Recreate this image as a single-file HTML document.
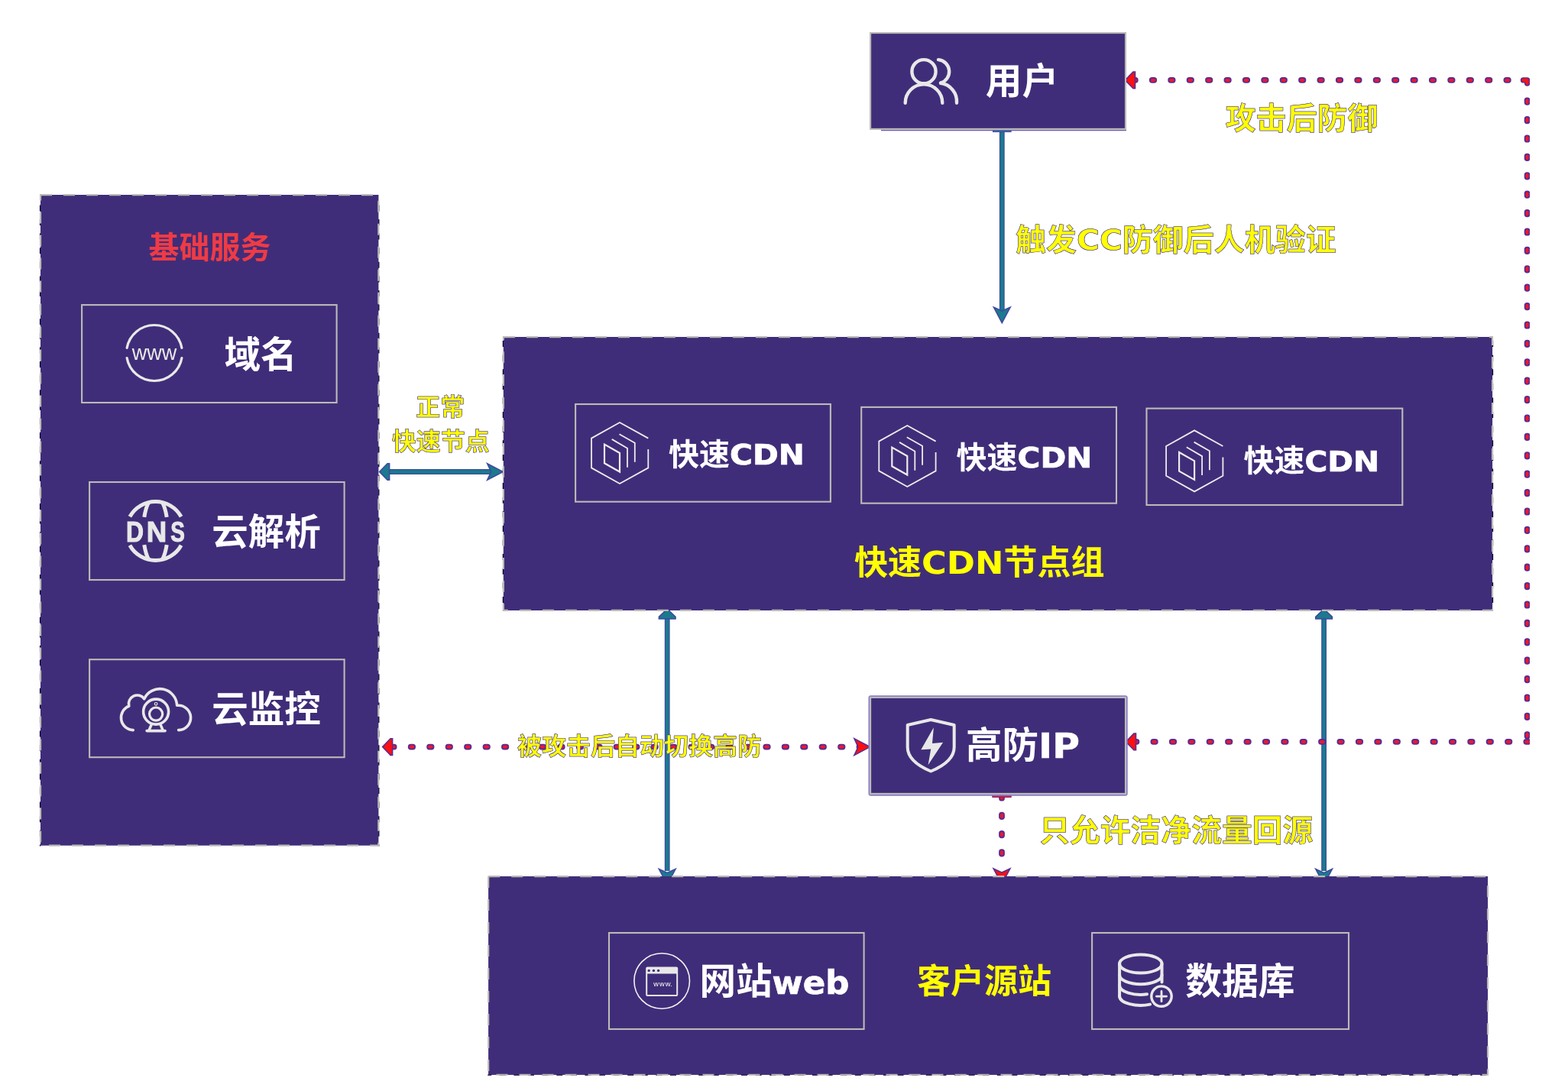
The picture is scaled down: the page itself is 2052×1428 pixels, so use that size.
<!DOCTYPE html>
<html lang="zh-CN"><head><meta charset="utf-8"><title>快速CDN 高防架构</title>
<style>
html,body{margin:0;padding:0;background:#fff;}
body{width:2052px;height:1428px;overflow:hidden;position:relative;}
svg{display:block;position:absolute;left:0;top:0;will-change:transform;}
text{font-family:"Liberation Sans","Noto Sans CJK SC","WenQuanYi Zen Hei",sans-serif;font-weight:700;}
.lat{font-family:"DejaVu Sans","Liberation Sans","Noto Sans CJK SC",sans-serif;font-weight:700;}
.w{fill:#fff;}
.wn{fill:#fff;}
.y{fill:#FFFF00;stroke:#5A4AA8;stroke-width:0.5px;stroke-linejoin:round;font-weight:700;filter:drop-shadow(0.45px 0.45px 0px rgba(58,40,150,0.95));}
.yp{fill:#FFFF00;}
.ic{fill:none;stroke:#E8E8E8;stroke-linecap:round;stroke-linejoin:round;}
</style></head><body>
<svg width="2052" height="1428" viewBox="0 0 2052 1428" role="img" aria-label="快速CDN 高防架构图">
<line x1="506" y1="617.5" x2="645" y2="617.5" stroke="#3F4A9E" stroke-width="6.8" />
<line x1="506" y1="617.5" x2="645" y2="617.5" stroke="#1B7A8E" stroke-width="4.4" />
<polygon points="496.6,617.5 507.0,606.7 509.6,606.7 509.6,628.3 507.0,628.3" fill="#1B7A8E" stroke="#3F4A9E" stroke-width="1.6" stroke-linejoin="miter"/>
<polygon points="658.2,617.5 637.7,628.3 642.7,617.5 637.7,606.7" fill="#1B7A8E" stroke="#3F4A9E" stroke-width="1.6" stroke-linejoin="miter"/>
<line x1="1311.3" y1="168" x2="1311.3" y2="408" stroke="#3F4A9E" stroke-width="6.8" />
<line x1="1311.3" y1="168" x2="1311.3" y2="408" stroke="#1B7A8E" stroke-width="4.4" />
<rect x="1299.5" y="168" width="23.6" height="4.6" fill="#1B7A8E" stroke="#3F4A9E" stroke-width="1"/>
<polygon points="1311.3,422.6 1300.5,402.1 1311.3,407.1 1322.1,402.1" fill="#1B7A8E" stroke="#3F4A9E" stroke-width="1.6" stroke-linejoin="miter"/>
<line x1="873.2" y1="806" x2="873.2" y2="1140" stroke="#3F4A9E" stroke-width="6.8" />
<line x1="873.2" y1="806" x2="873.2" y2="1140" stroke="#1B7A8E" stroke-width="4.4" />
<polygon points="873.2,797.0 884.0,807.4 884.0,810.0 862.4,810.0 862.4,807.4" fill="#1B7A8E" stroke="#3F4A9E" stroke-width="1.6" stroke-linejoin="miter"/>
<polygon points="873.2,1158.0 862.4,1137.5 873.2,1142.5 884.0,1137.5" fill="#1B7A8E" stroke="#3F4A9E" stroke-width="1.6" stroke-linejoin="miter"/>
<line x1="1732.6" y1="806" x2="1732.6" y2="1140" stroke="#3F4A9E" stroke-width="6.8" />
<line x1="1732.6" y1="806" x2="1732.6" y2="1140" stroke="#1B7A8E" stroke-width="4.4" />
<polygon points="1732.6,797.0 1743.4,807.4 1743.4,810.0 1721.8,810.0 1721.8,807.4" fill="#1B7A8E" stroke="#3F4A9E" stroke-width="1.6" stroke-linejoin="miter"/>
<polygon points="1732.6,1158.0 1721.8,1137.5 1732.6,1142.5 1743.4,1137.5" fill="#1B7A8E" stroke="#3F4A9E" stroke-width="1.6" stroke-linejoin="miter"/>
<rect x="1479.5" y="101.0" width="10.2" height="7.8" rx="3.7" fill="#5A2D91"/>
<rect x="1481.4" y="102.9" width="6.4" height="4" rx="2" fill="#F5152A"/>
<rect x="1503.9" y="101.0" width="10.2" height="7.8" rx="3.7" fill="#5A2D91"/>
<rect x="1505.8" y="102.9" width="6.4" height="4" rx="2" fill="#F5152A"/>
<rect x="1528.3" y="101.0" width="10.2" height="7.8" rx="3.7" fill="#5A2D91"/>
<rect x="1530.2" y="102.9" width="6.4" height="4" rx="2" fill="#F5152A"/>
<rect x="1552.7" y="101.0" width="10.2" height="7.8" rx="3.7" fill="#5A2D91"/>
<rect x="1554.6" y="102.9" width="6.4" height="4" rx="2" fill="#F5152A"/>
<rect x="1577.1" y="101.0" width="10.2" height="7.8" rx="3.7" fill="#5A2D91"/>
<rect x="1579.0" y="102.9" width="6.4" height="4" rx="2" fill="#F5152A"/>
<rect x="1601.5" y="101.0" width="10.2" height="7.8" rx="3.7" fill="#5A2D91"/>
<rect x="1603.4" y="102.9" width="6.4" height="4" rx="2" fill="#F5152A"/>
<rect x="1625.9" y="101.0" width="10.2" height="7.8" rx="3.7" fill="#5A2D91"/>
<rect x="1627.8" y="102.9" width="6.4" height="4" rx="2" fill="#F5152A"/>
<rect x="1650.3" y="101.0" width="10.2" height="7.8" rx="3.7" fill="#5A2D91"/>
<rect x="1652.2" y="102.9" width="6.4" height="4" rx="2" fill="#F5152A"/>
<rect x="1674.7" y="101.0" width="10.2" height="7.8" rx="3.7" fill="#5A2D91"/>
<rect x="1676.6" y="102.9" width="6.4" height="4" rx="2" fill="#F5152A"/>
<rect x="1699.1" y="101.0" width="10.2" height="7.8" rx="3.7" fill="#5A2D91"/>
<rect x="1701.0" y="102.9" width="6.4" height="4" rx="2" fill="#F5152A"/>
<rect x="1723.5" y="101.0" width="10.2" height="7.8" rx="3.7" fill="#5A2D91"/>
<rect x="1725.4" y="102.9" width="6.4" height="4" rx="2" fill="#F5152A"/>
<rect x="1747.9" y="101.0" width="10.2" height="7.8" rx="3.7" fill="#5A2D91"/>
<rect x="1749.8" y="102.9" width="6.4" height="4" rx="2" fill="#F5152A"/>
<rect x="1772.3" y="101.0" width="10.2" height="7.8" rx="3.7" fill="#5A2D91"/>
<rect x="1774.2" y="102.9" width="6.4" height="4" rx="2" fill="#F5152A"/>
<rect x="1796.7" y="101.0" width="10.2" height="7.8" rx="3.7" fill="#5A2D91"/>
<rect x="1798.6" y="102.9" width="6.4" height="4" rx="2" fill="#F5152A"/>
<rect x="1821.1" y="101.0" width="10.2" height="7.8" rx="3.7" fill="#5A2D91"/>
<rect x="1823.0" y="102.9" width="6.4" height="4" rx="2" fill="#F5152A"/>
<rect x="1845.5" y="101.0" width="10.2" height="7.8" rx="3.7" fill="#5A2D91"/>
<rect x="1847.4" y="102.9" width="6.4" height="4" rx="2" fill="#F5152A"/>
<rect x="1869.9" y="101.0" width="10.2" height="7.8" rx="3.7" fill="#5A2D91"/>
<rect x="1871.8" y="102.9" width="6.4" height="4" rx="2" fill="#F5152A"/>
<rect x="1894.3" y="101.0" width="10.2" height="7.8" rx="3.7" fill="#5A2D91"/>
<rect x="1896.2" y="102.9" width="6.4" height="4" rx="2" fill="#F5152A"/>
<rect x="1918.7" y="101.0" width="10.2" height="7.8" rx="3.7" fill="#5A2D91"/>
<rect x="1920.6" y="102.9" width="6.4" height="4" rx="2" fill="#F5152A"/>
<rect x="1943.1" y="101.0" width="10.2" height="7.8" rx="3.7" fill="#5A2D91"/>
<rect x="1945.0" y="102.9" width="6.4" height="4" rx="2" fill="#F5152A"/>
<rect x="1967.5" y="101.0" width="10.2" height="7.8" rx="3.7" fill="#5A2D91"/>
<rect x="1969.4" y="102.9" width="6.4" height="4" rx="2" fill="#F5152A"/>
<path d="M1993.5 104.9 H1998.6 V109" fill="none" stroke="#5A2D91" stroke-width="7.4" stroke-linecap="round" stroke-linejoin="round"/>
<path d="M1993.5 104.9 H1998.6 V109" fill="none" stroke="#FF1414" stroke-width="4.2" stroke-linecap="round" stroke-linejoin="round"/>
<rect x="1994.7" y="127.6" width="7.8" height="10.2" rx="3.7" fill="#5A2D91"/>
<rect x="1996.6" y="129.5" width="4" height="6.4" rx="2" fill="#F5152A"/>
<rect x="1994.7" y="152.0" width="7.8" height="10.2" rx="3.7" fill="#5A2D91"/>
<rect x="1996.6" y="153.9" width="4" height="6.4" rx="2" fill="#F5152A"/>
<rect x="1994.7" y="176.4" width="7.8" height="10.2" rx="3.7" fill="#5A2D91"/>
<rect x="1996.6" y="178.3" width="4" height="6.4" rx="2" fill="#F5152A"/>
<rect x="1994.7" y="200.8" width="7.8" height="10.2" rx="3.7" fill="#5A2D91"/>
<rect x="1996.6" y="202.7" width="4" height="6.4" rx="2" fill="#F5152A"/>
<rect x="1994.7" y="225.2" width="7.8" height="10.2" rx="3.7" fill="#5A2D91"/>
<rect x="1996.6" y="227.1" width="4" height="6.4" rx="2" fill="#F5152A"/>
<rect x="1994.7" y="249.6" width="7.8" height="10.2" rx="3.7" fill="#5A2D91"/>
<rect x="1996.6" y="251.5" width="4" height="6.4" rx="2" fill="#F5152A"/>
<rect x="1994.7" y="274.0" width="7.8" height="10.2" rx="3.7" fill="#5A2D91"/>
<rect x="1996.6" y="275.9" width="4" height="6.4" rx="2" fill="#F5152A"/>
<rect x="1994.7" y="298.4" width="7.8" height="10.2" rx="3.7" fill="#5A2D91"/>
<rect x="1996.6" y="300.3" width="4" height="6.4" rx="2" fill="#F5152A"/>
<rect x="1994.7" y="322.8" width="7.8" height="10.2" rx="3.7" fill="#5A2D91"/>
<rect x="1996.6" y="324.7" width="4" height="6.4" rx="2" fill="#F5152A"/>
<rect x="1994.7" y="347.2" width="7.8" height="10.2" rx="3.7" fill="#5A2D91"/>
<rect x="1996.6" y="349.1" width="4" height="6.4" rx="2" fill="#F5152A"/>
<rect x="1994.7" y="371.6" width="7.8" height="10.2" rx="3.7" fill="#5A2D91"/>
<rect x="1996.6" y="373.5" width="4" height="6.4" rx="2" fill="#F5152A"/>
<rect x="1994.7" y="396.0" width="7.8" height="10.2" rx="3.7" fill="#5A2D91"/>
<rect x="1996.6" y="397.9" width="4" height="6.4" rx="2" fill="#F5152A"/>
<rect x="1994.7" y="420.4" width="7.8" height="10.2" rx="3.7" fill="#5A2D91"/>
<rect x="1996.6" y="422.3" width="4" height="6.4" rx="2" fill="#F5152A"/>
<rect x="1994.7" y="444.8" width="7.8" height="10.2" rx="3.7" fill="#5A2D91"/>
<rect x="1996.6" y="446.7" width="4" height="6.4" rx="2" fill="#F5152A"/>
<rect x="1994.7" y="469.2" width="7.8" height="10.2" rx="3.7" fill="#5A2D91"/>
<rect x="1996.6" y="471.1" width="4" height="6.4" rx="2" fill="#F5152A"/>
<rect x="1994.7" y="493.6" width="7.8" height="10.2" rx="3.7" fill="#5A2D91"/>
<rect x="1996.6" y="495.5" width="4" height="6.4" rx="2" fill="#F5152A"/>
<rect x="1994.7" y="518.0" width="7.8" height="10.2" rx="3.7" fill="#5A2D91"/>
<rect x="1996.6" y="519.9" width="4" height="6.4" rx="2" fill="#F5152A"/>
<rect x="1994.7" y="542.4" width="7.8" height="10.2" rx="3.7" fill="#5A2D91"/>
<rect x="1996.6" y="544.3" width="4" height="6.4" rx="2" fill="#F5152A"/>
<rect x="1994.7" y="566.8" width="7.8" height="10.2" rx="3.7" fill="#5A2D91"/>
<rect x="1996.6" y="568.7" width="4" height="6.4" rx="2" fill="#F5152A"/>
<rect x="1994.7" y="591.2" width="7.8" height="10.2" rx="3.7" fill="#5A2D91"/>
<rect x="1996.6" y="593.1" width="4" height="6.4" rx="2" fill="#F5152A"/>
<rect x="1994.7" y="615.6" width="7.8" height="10.2" rx="3.7" fill="#5A2D91"/>
<rect x="1996.6" y="617.5" width="4" height="6.4" rx="2" fill="#F5152A"/>
<rect x="1994.7" y="640.0" width="7.8" height="10.2" rx="3.7" fill="#5A2D91"/>
<rect x="1996.6" y="641.9" width="4" height="6.4" rx="2" fill="#F5152A"/>
<rect x="1994.7" y="664.4" width="7.8" height="10.2" rx="3.7" fill="#5A2D91"/>
<rect x="1996.6" y="666.3" width="4" height="6.4" rx="2" fill="#F5152A"/>
<rect x="1994.7" y="688.8" width="7.8" height="10.2" rx="3.7" fill="#5A2D91"/>
<rect x="1996.6" y="690.7" width="4" height="6.4" rx="2" fill="#F5152A"/>
<rect x="1994.7" y="713.2" width="7.8" height="10.2" rx="3.7" fill="#5A2D91"/>
<rect x="1996.6" y="715.1" width="4" height="6.4" rx="2" fill="#F5152A"/>
<rect x="1994.7" y="737.6" width="7.8" height="10.2" rx="3.7" fill="#5A2D91"/>
<rect x="1996.6" y="739.5" width="4" height="6.4" rx="2" fill="#F5152A"/>
<rect x="1994.7" y="762.0" width="7.8" height="10.2" rx="3.7" fill="#5A2D91"/>
<rect x="1996.6" y="763.9" width="4" height="6.4" rx="2" fill="#F5152A"/>
<rect x="1994.7" y="786.4" width="7.8" height="10.2" rx="3.7" fill="#5A2D91"/>
<rect x="1996.6" y="788.3" width="4" height="6.4" rx="2" fill="#F5152A"/>
<rect x="1994.7" y="810.8" width="7.8" height="10.2" rx="3.7" fill="#5A2D91"/>
<rect x="1996.6" y="812.7" width="4" height="6.4" rx="2" fill="#F5152A"/>
<rect x="1994.7" y="835.2" width="7.8" height="10.2" rx="3.7" fill="#5A2D91"/>
<rect x="1996.6" y="837.1" width="4" height="6.4" rx="2" fill="#F5152A"/>
<rect x="1994.7" y="859.6" width="7.8" height="10.2" rx="3.7" fill="#5A2D91"/>
<rect x="1996.6" y="861.5" width="4" height="6.4" rx="2" fill="#F5152A"/>
<rect x="1994.7" y="884.0" width="7.8" height="10.2" rx="3.7" fill="#5A2D91"/>
<rect x="1996.6" y="885.9" width="4" height="6.4" rx="2" fill="#F5152A"/>
<rect x="1994.7" y="908.4" width="7.8" height="10.2" rx="3.7" fill="#5A2D91"/>
<rect x="1996.6" y="910.3" width="4" height="6.4" rx="2" fill="#F5152A"/>
<rect x="1994.7" y="932.8" width="7.8" height="10.2" rx="3.7" fill="#5A2D91"/>
<rect x="1996.6" y="934.7" width="4" height="6.4" rx="2" fill="#F5152A"/>
<rect x="1994.7" y="957.2" width="7.8" height="10.2" rx="3.7" fill="#5A2D91"/>
<rect x="1996.6" y="959.1" width="4" height="6.4" rx="2" fill="#F5152A"/>
<rect x="1993.5" y="967.0" width="10.2" height="7.8" rx="3.7" fill="#5A2D91"/>
<rect x="1995.4" y="968.9" width="6.4" height="4" rx="2" fill="#F5152A"/>
<rect x="1969.1" y="967.0" width="10.2" height="7.8" rx="3.7" fill="#5A2D91"/>
<rect x="1971.0" y="968.9" width="6.4" height="4" rx="2" fill="#F5152A"/>
<rect x="1944.7" y="967.0" width="10.2" height="7.8" rx="3.7" fill="#5A2D91"/>
<rect x="1946.6" y="968.9" width="6.4" height="4" rx="2" fill="#F5152A"/>
<rect x="1920.3" y="967.0" width="10.2" height="7.8" rx="3.7" fill="#5A2D91"/>
<rect x="1922.2" y="968.9" width="6.4" height="4" rx="2" fill="#F5152A"/>
<rect x="1895.9" y="967.0" width="10.2" height="7.8" rx="3.7" fill="#5A2D91"/>
<rect x="1897.8" y="968.9" width="6.4" height="4" rx="2" fill="#F5152A"/>
<rect x="1871.5" y="967.0" width="10.2" height="7.8" rx="3.7" fill="#5A2D91"/>
<rect x="1873.4" y="968.9" width="6.4" height="4" rx="2" fill="#F5152A"/>
<rect x="1847.1" y="967.0" width="10.2" height="7.8" rx="3.7" fill="#5A2D91"/>
<rect x="1849.0" y="968.9" width="6.4" height="4" rx="2" fill="#F5152A"/>
<rect x="1822.7" y="967.0" width="10.2" height="7.8" rx="3.7" fill="#5A2D91"/>
<rect x="1824.6" y="968.9" width="6.4" height="4" rx="2" fill="#F5152A"/>
<rect x="1798.3" y="967.0" width="10.2" height="7.8" rx="3.7" fill="#5A2D91"/>
<rect x="1800.2" y="968.9" width="6.4" height="4" rx="2" fill="#F5152A"/>
<rect x="1773.9" y="967.0" width="10.2" height="7.8" rx="3.7" fill="#5A2D91"/>
<rect x="1775.8" y="968.9" width="6.4" height="4" rx="2" fill="#F5152A"/>
<rect x="1749.5" y="967.0" width="10.2" height="7.8" rx="3.7" fill="#5A2D91"/>
<rect x="1751.4" y="968.9" width="6.4" height="4" rx="2" fill="#F5152A"/>
<rect x="1725.1" y="967.0" width="10.2" height="7.8" rx="3.7" fill="#5A2D91"/>
<rect x="1727.0" y="968.9" width="6.4" height="4" rx="2" fill="#F5152A"/>
<rect x="1700.7" y="967.0" width="10.2" height="7.8" rx="3.7" fill="#5A2D91"/>
<rect x="1702.6" y="968.9" width="6.4" height="4" rx="2" fill="#F5152A"/>
<rect x="1676.3" y="967.0" width="10.2" height="7.8" rx="3.7" fill="#5A2D91"/>
<rect x="1678.2" y="968.9" width="6.4" height="4" rx="2" fill="#F5152A"/>
<rect x="1651.9" y="967.0" width="10.2" height="7.8" rx="3.7" fill="#5A2D91"/>
<rect x="1653.8" y="968.9" width="6.4" height="4" rx="2" fill="#F5152A"/>
<rect x="1627.5" y="967.0" width="10.2" height="7.8" rx="3.7" fill="#5A2D91"/>
<rect x="1629.4" y="968.9" width="6.4" height="4" rx="2" fill="#F5152A"/>
<rect x="1603.1" y="967.0" width="10.2" height="7.8" rx="3.7" fill="#5A2D91"/>
<rect x="1605.0" y="968.9" width="6.4" height="4" rx="2" fill="#F5152A"/>
<rect x="1578.7" y="967.0" width="10.2" height="7.8" rx="3.7" fill="#5A2D91"/>
<rect x="1580.6" y="968.9" width="6.4" height="4" rx="2" fill="#F5152A"/>
<rect x="1554.3" y="967.0" width="10.2" height="7.8" rx="3.7" fill="#5A2D91"/>
<rect x="1556.2" y="968.9" width="6.4" height="4" rx="2" fill="#F5152A"/>
<rect x="1529.9" y="967.0" width="10.2" height="7.8" rx="3.7" fill="#5A2D91"/>
<rect x="1531.8" y="968.9" width="6.4" height="4" rx="2" fill="#F5152A"/>
<rect x="1505.5" y="967.0" width="10.2" height="7.8" rx="3.7" fill="#5A2D91"/>
<rect x="1507.4" y="968.9" width="6.4" height="4" rx="2" fill="#F5152A"/>
<rect x="1481.1" y="967.0" width="10.2" height="7.8" rx="3.7" fill="#5A2D91"/>
<rect x="1483.0" y="968.9" width="6.4" height="4" rx="2" fill="#F5152A"/>
<polygon points="1472.5,104.9 1482.9,94.1 1485.5,94.1 1485.5,115.7 1482.9,115.7" fill="#FF1010" stroke="#5A2D91" stroke-width="1.6" stroke-linejoin="miter"/>
<polygon points="1473.5,970.9 1483.9,960.1 1486.5,960.1 1486.5,981.7 1483.9,981.7" fill="#FF1010" stroke="#5A2D91" stroke-width="1.6" stroke-linejoin="miter"/>
<rect x="509.3" y="973.7" width="10.2" height="7.8" rx="3.7" fill="#5A2D91"/>
<rect x="511.2" y="975.6" width="6.4" height="4" rx="2" fill="#F5152A"/>
<rect x="533.8" y="973.7" width="10.2" height="7.8" rx="3.7" fill="#5A2D91"/>
<rect x="535.7" y="975.6" width="6.4" height="4" rx="2" fill="#F5152A"/>
<rect x="558.2" y="973.7" width="10.2" height="7.8" rx="3.7" fill="#5A2D91"/>
<rect x="560.1" y="975.6" width="6.4" height="4" rx="2" fill="#F5152A"/>
<rect x="582.7" y="973.7" width="10.2" height="7.8" rx="3.7" fill="#5A2D91"/>
<rect x="584.6" y="975.6" width="6.4" height="4" rx="2" fill="#F5152A"/>
<rect x="607.1" y="973.7" width="10.2" height="7.8" rx="3.7" fill="#5A2D91"/>
<rect x="609.0" y="975.6" width="6.4" height="4" rx="2" fill="#F5152A"/>
<rect x="631.6" y="973.7" width="10.2" height="7.8" rx="3.7" fill="#5A2D91"/>
<rect x="633.5" y="975.6" width="6.4" height="4" rx="2" fill="#F5152A"/>
<rect x="656.0" y="973.7" width="10.2" height="7.8" rx="3.7" fill="#5A2D91"/>
<rect x="657.9" y="975.6" width="6.4" height="4" rx="2" fill="#F5152A"/>
<rect x="680.5" y="973.7" width="10.2" height="7.8" rx="3.7" fill="#5A2D91"/>
<rect x="682.4" y="975.6" width="6.4" height="4" rx="2" fill="#F5152A"/>
<rect x="704.9" y="973.7" width="10.2" height="7.8" rx="3.7" fill="#5A2D91"/>
<rect x="706.8" y="975.6" width="6.4" height="4" rx="2" fill="#F5152A"/>
<rect x="729.4" y="973.7" width="10.2" height="7.8" rx="3.7" fill="#5A2D91"/>
<rect x="731.3" y="975.6" width="6.4" height="4" rx="2" fill="#F5152A"/>
<rect x="753.8" y="973.7" width="10.2" height="7.8" rx="3.7" fill="#5A2D91"/>
<rect x="755.7" y="975.6" width="6.4" height="4" rx="2" fill="#F5152A"/>
<rect x="778.3" y="973.7" width="10.2" height="7.8" rx="3.7" fill="#5A2D91"/>
<rect x="780.2" y="975.6" width="6.4" height="4" rx="2" fill="#F5152A"/>
<rect x="802.7" y="973.7" width="10.2" height="7.8" rx="3.7" fill="#5A2D91"/>
<rect x="804.6" y="975.6" width="6.4" height="4" rx="2" fill="#F5152A"/>
<rect x="827.2" y="973.7" width="10.2" height="7.8" rx="3.7" fill="#5A2D91"/>
<rect x="829.1" y="975.6" width="6.4" height="4" rx="2" fill="#F5152A"/>
<rect x="851.6" y="973.7" width="10.2" height="7.8" rx="3.7" fill="#5A2D91"/>
<rect x="853.5" y="975.6" width="6.4" height="4" rx="2" fill="#F5152A"/>
<rect x="876.1" y="973.7" width="10.2" height="7.8" rx="3.7" fill="#5A2D91"/>
<rect x="878.0" y="975.6" width="6.4" height="4" rx="2" fill="#F5152A"/>
<rect x="900.5" y="973.7" width="10.2" height="7.8" rx="3.7" fill="#5A2D91"/>
<rect x="902.4" y="975.6" width="6.4" height="4" rx="2" fill="#F5152A"/>
<rect x="925.0" y="973.7" width="10.2" height="7.8" rx="3.7" fill="#5A2D91"/>
<rect x="926.9" y="975.6" width="6.4" height="4" rx="2" fill="#F5152A"/>
<rect x="949.4" y="973.7" width="10.2" height="7.8" rx="3.7" fill="#5A2D91"/>
<rect x="951.3" y="975.6" width="6.4" height="4" rx="2" fill="#F5152A"/>
<rect x="973.9" y="973.7" width="10.2" height="7.8" rx="3.7" fill="#5A2D91"/>
<rect x="975.8" y="975.6" width="6.4" height="4" rx="2" fill="#F5152A"/>
<rect x="998.4" y="973.7" width="10.2" height="7.8" rx="3.7" fill="#5A2D91"/>
<rect x="1000.2" y="975.6" width="6.4" height="4" rx="2" fill="#F5152A"/>
<rect x="1022.8" y="973.7" width="10.2" height="7.8" rx="3.7" fill="#5A2D91"/>
<rect x="1024.7" y="975.6" width="6.4" height="4" rx="2" fill="#F5152A"/>
<rect x="1047.2" y="973.7" width="10.2" height="7.8" rx="3.7" fill="#5A2D91"/>
<rect x="1049.1" y="975.6" width="6.4" height="4" rx="2" fill="#F5152A"/>
<rect x="1071.7" y="973.7" width="10.2" height="7.8" rx="3.7" fill="#5A2D91"/>
<rect x="1073.6" y="975.6" width="6.4" height="4" rx="2" fill="#F5152A"/>
<rect x="1096.2" y="973.7" width="10.2" height="7.8" rx="3.7" fill="#5A2D91"/>
<rect x="1098.0" y="975.6" width="6.4" height="4" rx="2" fill="#F5152A"/>
<rect x="1120.6" y="973.7" width="10.2" height="7.8" rx="3.7" fill="#5A2D91"/>
<rect x="1122.5" y="975.6" width="6.4" height="4" rx="2" fill="#F5152A"/>
<polygon points="500.6,977.6 511.0,966.8 513.6,966.8 513.6,988.4 511.0,988.4" fill="#FF1010" stroke="#5A2D91" stroke-width="1.6" stroke-linejoin="miter"/>
<polygon points="1138.5,977.6 1118.0,988.4 1123.0,977.6 1118.0,966.8" fill="#FF1010" stroke="#5A2D91" stroke-width="1.6" stroke-linejoin="miter"/>
<rect x="1307.1" y="1038.4" width="7.8" height="10.2" rx="3.7" fill="#5A2D91"/>
<rect x="1309.0" y="1040.3" width="4" height="6.4" rx="2" fill="#F5152A"/>
<rect x="1307.1" y="1062.7" width="7.8" height="10.2" rx="3.7" fill="#5A2D91"/>
<rect x="1309.0" y="1064.6" width="4" height="6.4" rx="2" fill="#F5152A"/>
<rect x="1307.1" y="1087.0" width="7.8" height="10.2" rx="3.7" fill="#5A2D91"/>
<rect x="1309.0" y="1088.9" width="4" height="6.4" rx="2" fill="#F5152A"/>
<rect x="1307.1" y="1111.3" width="7.8" height="10.2" rx="3.7" fill="#5A2D91"/>
<rect x="1309.0" y="1113.2" width="4" height="6.4" rx="2" fill="#F5152A"/>
<rect x="1298.8" y="1039" width="24.4" height="4.4" fill="#FF1414" stroke="#5A2D91" stroke-width="1"/>
<polygon points="1311.0,1157.5 1300.2,1137.0 1311.0,1142.0 1321.8,1137.0" fill="#FF1010" stroke="#5A2D91" stroke-width="1.6" stroke-linejoin="miter"/>
<rect x="2002" y="0" width="50" height="1428" fill="#fff"/>
<rect x="52.96" y="255" width="442.44" height="851.7" fill="#402D79"/>
<path d="M52.56 260.1 V1107.6 M495.8 260.1 V1107.6" stroke="#0B0338" stroke-width="1.3" stroke-dasharray="8 10.6" fill="none" stroke-dashoffset="10.3"/>
<rect x="53.06" y="255.1" width="442.24" height="851.5" fill="none" stroke="#BBBBB7" stroke-width="2.1" stroke-dasharray="15 15"/>
<rect x="658.8" y="441" width="1294.3" height="358" fill="#402D79"/>
<path d="M658.4 446.1 V799.9 M1953.5 446.1 V799.9" stroke="#0B0338" stroke-width="1.3" stroke-dasharray="8 10.6" fill="none" stroke-dashoffset="0"/>
<rect x="658.9" y="441.1" width="1294.1" height="357.8" fill="none" stroke="#BBBBB7" stroke-width="2.1" stroke-dasharray="15 15"/>
<rect x="639.1" y="1147" width="1308" height="259.9" fill="#402D79"/>
<path d="M638.2 1407.2 H1948" stroke="#0B0338" stroke-width="1.3" stroke-dasharray="8 10.6" fill="none" stroke-dashoffset="3"/>
<rect x="639.2" y="1147.1" width="1307.8" height="259.7" fill="none" stroke="#BBBBB7" stroke-width="2.1" stroke-dasharray="15 15"/>
<path d="M1153 170.6 H1474" stroke="#6E5AB5" stroke-width="1.2"/>
<rect x="1139.1" y="43.1" width="333.9" height="125.8" fill="#402D79" stroke="#BBBBB7" stroke-width="2.1"/>
<rect x="1136.5" y="910.3" width="339.2" height="131.4" rx="3" fill="#8A7CC6"/>
<rect x="1139.1" y="912.9" width="333.9" height="126" fill="#402D79" stroke="#BBBBB7" stroke-width="2.1"/>
<rect x="107.1" y="399.1" width="333.5" height="127.9" fill="none" stroke="#BBBBB7" stroke-width="2.1"/>
<rect x="117.1" y="631" width="333.5" height="128" fill="none" stroke="#BBBBB7" stroke-width="2.1"/>
<rect x="117.1" y="863.2" width="333.5" height="128" fill="none" stroke="#BBBBB7" stroke-width="2.1"/>
<rect x="753.1" y="529" width="333.8" height="127.7" fill="none" stroke="#BBBBB7" stroke-width="2.1"/>
<rect x="1127.2" y="532.9" width="333.8" height="125.8" fill="none" stroke="#BBBBB7" stroke-width="2.1"/>
<rect x="1500.5" y="534.6" width="334.8" height="126.4" fill="none" stroke="#BBBBB7" stroke-width="2.1"/>
<rect x="797" y="1221" width="333.6" height="126" fill="none" stroke="#BBBBB7" stroke-width="2.1"/>
<rect x="1429.1" y="1221" width="335.9" height="126" fill="none" stroke="#BBBBB7" stroke-width="2.1"/>
<g class="ic" stroke-width="4.4">
<circle cx="1209" cy="93.7" r="15.6"/>
<path d="M1184.7 134.7 a24.3 24.3 0 0 1 48.6 0"/>
<path d="M1228 78.1 a15.6 15.6 0 0 1 3 30.5"/>
<path d="M1231 108.7 a24.3 24.3 0 0 1 21 26"/>
</g>
<g class="ic" stroke-width="3.2">
<path d="M166.1 455.4 A36.5 36.5 0 0 1 237.9 455.4"/>
<path d="M166.1 468.6 A36.5 36.5 0 0 0 237.9 468.6"/>
</g>
<text x="202" y="470.5" text-anchor="middle" font-size="27" style="font-family:&quot;Liberation Sans&quot;,sans-serif;font-weight:400" fill="#E8E8E8">www</text>
<g fill="none" stroke="#E8E8E8" stroke-width="5">
<path d="M169.9 676.2 A38.5 38.5 0 0 1 237.1 676.2"/>
<path d="M169.9 713.8 A38.5 38.5 0 0 0 237.1 713.8"/>
<path d="M188.8 676.8 A16.1 45 0 0 1 194.5 657.6 M218.2 676.8 A16.1 45 0 0 0 212.5 657.6"/>
<path d="M188.8 713.2 A16.1 45 0 0 0 194.5 732.4 M218.2 713.2 A16.1 45 0 0 1 212.5 732.4"/>
</g>
<text y="708.5" font-size="36.4" style="font-family:&quot;Liberation Sans&quot;,sans-serif;font-weight:700;stroke:#E8E8E8;stroke-width:1.1px" fill="#E8E8E8"><tspan x="164.9" textLength="23" lengthAdjust="spacingAndGlyphs">D</tspan><tspan x="191.7" textLength="26.4" lengthAdjust="spacingAndGlyphs">N</tspan><tspan x="223.3" textLength="18.6" lengthAdjust="spacingAndGlyphs">S</tspan></text>
<g class="ic" stroke-width="3.6">
<path d="M174.2 955.6 A16.2 16.2 0 0 1 168.8 924.3 A11.2 11.2 0 0 1 188.7 914.7 A22.5 22.5 0 0 1 231.6 923.3 A16.2 16.2 0 1 1 233.6 955.6"/>
<circle cx="204.1" cy="931.6" r="16.5"/>
<circle cx="204.1" cy="934.6" r="8.6" stroke-width="3.2"/>
<circle cx="204.1" cy="921.3" r="1.8" stroke-width="1.2"/>
<path d="M198.1 948.6 l-3 7 M210.1 948.6 l3 7 M192.1 956.6 h24"/>
</g>
<g fill="none" stroke="#ECECEC" stroke-width="1.8" stroke-linejoin="miter" stroke-linecap="butt">
<path d="M848.3 573.6 L811.0 553.0 L774.0 573.6 L774.0 612.4 L811.0 633.0 L848.3 612.4 L848.3 588.0"/>
<path d="M791.0 581.6 L791.0 606.3 L811.0 617.5 L811.0 593.0 Z" stroke-width="2.2"/>
<path d="M800.7 574.9 L821.0 586.7 L821.0 611.7"/>
<path d="M810.5 568.2 L830.8 579.8 L830.8 604.8"/>
</g>
<g fill="none" stroke="#ECECEC" stroke-width="1.8" stroke-linejoin="miter" stroke-linecap="butt">
<path d="M1224.6 577.6 L1187.3 557.0 L1150.3 577.6 L1150.3 616.4 L1187.3 637.0 L1224.6 616.4 L1224.6 592.0"/>
<path d="M1167.3 585.6 L1167.3 610.3 L1187.3 621.5 L1187.3 597.0 Z" stroke-width="2.2"/>
<path d="M1177.0 578.9 L1197.3 590.7 L1197.3 615.7"/>
<path d="M1186.8 572.2 L1207.1 583.8 L1207.1 608.8"/>
</g>
<g fill="none" stroke="#ECECEC" stroke-width="1.8" stroke-linejoin="miter" stroke-linecap="butt">
<path d="M1600.4 584.0 L1563.1 563.4 L1526.1 584.0 L1526.1 622.8 L1563.1 643.4 L1600.4 622.8 L1600.4 598.4"/>
<path d="M1543.1 592.0 L1543.1 616.7 L1563.1 627.9 L1563.1 603.4 Z" stroke-width="2.2"/>
<path d="M1552.8 585.3 L1573.1 597.1 L1573.1 622.1"/>
<path d="M1562.6 578.6 L1582.9 590.2 L1582.9 615.2"/>
</g>
<path class="ic" stroke-width="4" stroke-linejoin="miter" d="M1218.2 942 L1248.7 949 V978 C1248.7 992 1236.2 1002 1218.2 1009.5 C1200.2 1002 1187.7 992 1187.7 978 V949 Z"/>
<polygon fill="#E8E8E8" points="1221.9,952.2 1205.3,981.3 1218.2,980.6 1214.6,1001.2 1234.1,971.8 1220,973.1"/>
<circle cx="866.2" cy="1284" r="36.3" fill="none" stroke="#F2F2F2" stroke-width="1.6"/>
<rect x="846.2" y="1266.5" width="40" height="36.5" rx="1" fill="none" stroke="#E8E8E8" stroke-width="2"/>
<rect x="846.2" y="1266.5" width="40" height="8" fill="#E8E8E8"/>
<circle cx="849.2" cy="1270.4" r="1.7" fill="#402D79"/>
<circle cx="855.4" cy="1270.4" r="1.7" fill="#402D79"/>
<circle cx="861.6" cy="1270.4" r="1.7" fill="#402D79"/>
<text x="867.4" y="1291" text-anchor="middle" font-size="9.4" style="font-family:&quot;DejaVu Sans&quot;,&quot;Liberation Sans&quot;,sans-serif;font-weight:400" fill="#E8E8E8">www.</text>
<g class="ic" stroke-width="4" stroke-linecap="butt">
<ellipse cx="1492.8" cy="1261.5" rx="27.7" ry="12"/>
<path d="M1465.1 1261.5 v42.6 M1520.5 1261.5 v24"/>
<path d="M1465.1 1276.2 a27.7 12 0 0 0 55.4 0"/>
<path d="M1465.1 1290.1 a27.7 12 0 0 0 36 11.2"/>
<path d="M1465.1 1304.1 a27.7 12 0 0 0 40 10.5"/>
<circle cx="1520" cy="1304.1" r="13.2" stroke-width="3.4"/>
<path d="M1513.4 1304.1 h13.2 M1520 1297.5 v13.2" stroke-width="2.8"/>
</g>
<text x="274.4" y="337.5" font-size="40" text-anchor="middle" fill="#EE3B45">基础服务</text>
<text x="1289.8" y="123" font-size="47.6" class="wn" text-anchor="start" style="font-weight:600">用户</text>
<text x="293.5" y="481" font-size="47.5" class="w" text-anchor="start">域名</text>
<text x="277.2" y="713" font-size="47.5" class="w" text-anchor="start">云解析</text>
<text x="277.2" y="945" font-size="47.5" class="w" text-anchor="start">云监控</text>
<text x="875" y="608.6" font-size="40" class="w" text-anchor="start">快速<tspan class="lat" font-size="37.70" textLength="97.8" lengthAdjust="spacingAndGlyphs" dy="-0.6" style="stroke-width:0.7px;stroke:#fff">CDN</tspan></text>
<text x="1251.6" y="612.6" font-size="40" class="w" text-anchor="start">快速<tspan class="lat" font-size="37.70" textLength="97.8" lengthAdjust="spacingAndGlyphs" dy="-0.6" style="stroke-width:0.7px;stroke:#fff">CDN</tspan></text>
<text x="1627.4" y="617.2" font-size="40" class="w" text-anchor="start">快速<tspan class="lat" font-size="37.70" textLength="97.8" lengthAdjust="spacingAndGlyphs" dy="-0.6" style="stroke-width:0.7px;stroke:#fff">CDN</tspan></text>
<text x="1264" y="992" font-size="47.5" class="wn" text-anchor="start">高防<tspan class="lat" font-size="44.77" textLength="53.9" lengthAdjust="spacingAndGlyphs" dy="0.3" style="stroke-width:0.5px;stroke:#fff">IP</tspan></text>
<text x="915.5" y="1301.2" font-size="47.5" class="w" text-anchor="start">网站<tspan class="lat" font-size="42.99" textLength="100.8" lengthAdjust="spacingAndGlyphs" dy="-0.6" style="stroke-width:0.7px;stroke:#fff">web</tspan></text>
<text x="1551.2" y="1301.4" font-size="47.8" class="w" text-anchor="start">数据库</text>
<text x="1118" y="752" font-size="44" class="yp" text-anchor="start">快速<tspan class="lat" font-size="41.47" textLength="107.5" lengthAdjust="spacingAndGlyphs" dy="-0.6">CDN</tspan><tspan dy="0.6">节点组</tspan></text>
<text x="1200" y="1300" font-size="44" class="yp" text-anchor="start">客户源站</text>
<text x="576.3" y="544.2" font-size="32" class="y" text-anchor="middle">正常</text>
<text x="576.8" y="588.7" font-size="32" class="y" text-anchor="middle">快速节点</text>
<text x="1329" y="328" font-size="40" class="y" text-anchor="start">触发<tspan class="lat" font-size="37.70" textLength="59.8" lengthAdjust="spacingAndGlyphs" dy="-0.6">CC</tspan><tspan dy="0.6">防御后人机验证</tspan></text>
<text x="1603.6" y="168.8" font-size="40" class="y" text-anchor="start">攻击后防御</text>
<text x="677" y="988" font-size="32" class="y" text-anchor="start">被攻击后自动切换高防</text>
<text x="1360.2" y="1100.8" font-size="39.8" class="y" text-anchor="start">只允许洁净流量回源</text>
</svg>
</body></html>
